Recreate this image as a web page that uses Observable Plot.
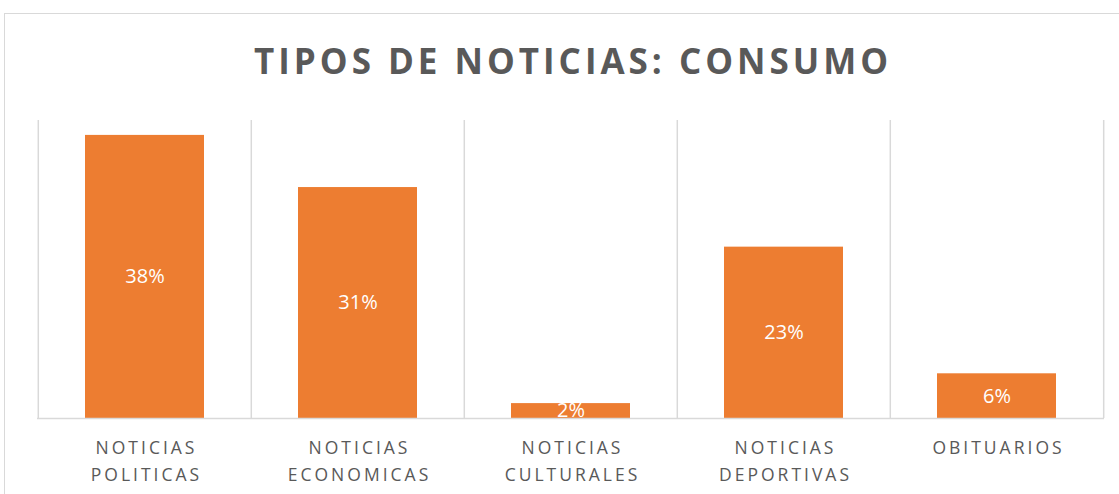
<!DOCTYPE html>
<html><head><meta charset="utf-8">
<script src="https://cdn.jsdelivr.net/npm/d3@7"></script>
<script src="https://cdn.jsdelivr.net/npm/@observablehq/plot@0.6"></script>
<style>
body{margin:0;background:#fff;}
#wrap{position:relative;width:1119px;height:494px;overflow:hidden;}
#wrap svg{position:absolute;left:0;top:0;}
#border{position:absolute;left:4px;top:13px;width:1300px;height:700px;border:1.5px solid #d9d9d9;box-sizing:border-box;pointer-events:none;}
</style></head><body><div id="wrap"><div id="border"></div></div>
<script>
const categories = ["NOTICIAS POLITICAS", "NOTICIAS ECONOMICAS", "NOTICIAS CULTURALES", "NOTICIAS DEPORTIVAS", "OBITUARIOS"];
const tickLabels = ["NOTICIAS\nPOLITICAS", "NOTICIAS\nECONOMICAS", "NOTICIAS\nCULTURALES", "NOTICIAS\nDEPORTIVAS", "OBITUARIOS"];
const values = [38, 31, 2, 23, 6];
const title = "TIPOS DE NOTICIAS: CONSUMO";

const data = categories.map((c, i) => ({category: c, value: values[i]}));
const W = 1119, H = 494, mL = 37, mR = 15, mT = 120, mB = 76;
const step = (W - mL - mR) / categories.length;
const grid = "#d9d9d9";

const chart = Plot.plot({
  width: W, height: H, marginLeft: mL, marginRight: mR, marginTop: mT, marginBottom: mB,
  style: {fontFamily: "'Open Sans', sans-serif", background: "transparent"},
  x: {domain: categories, paddingInner: 0.44, paddingOuter: 0.22, axis: null},
  y: {domain: [0, 40], axis: null},
  marks: [
    Plot.ruleX(categories, {x: d => d, dx: -step / 2, stroke: grid, strokeWidth: 1.5}),
    Plot.ruleX([categories[categories.length - 1]], {x: d => d, dx: step / 2, stroke: grid, strokeWidth: 1.5}),
    Plot.barY(data, {x: "category", y: "value", fill: "#ED7D31"}),
    Plot.ruleY([0], {stroke: grid, strokeWidth: 1.5}),
    Plot.text(data, {x: "category", y: d => d.value / 2, text: d => d.value + "%", fill: "white", fontSize: 20}),
    Plot.axisX({tickSize: 0, tickPadding: 16, fontSize: 17.5, lineHeight: 1.55, fill: "#595959", dx: 1.5, label: null,
      tickFormat: d => tickLabels[categories.indexOf(d)]}),
    Plot.text([title], {frameAnchor: "top", lineAnchor: "bottom", dy: -47, fontSize: 35, fontWeight: "bold", fill: "#595959"})
  ]
});
document.getElementById("wrap").prepend(chart);
const sel = d3.select(chart);
sel.selectAll("text").filter(function() { return this.textContent === title; })
  .attr("textLength", 634).attr("lengthAdjust", "spacing");
sel.selectAll('g[aria-label="x-axis tick label"] text').style("letter-spacing", "3px");
</script>
</body></html>
